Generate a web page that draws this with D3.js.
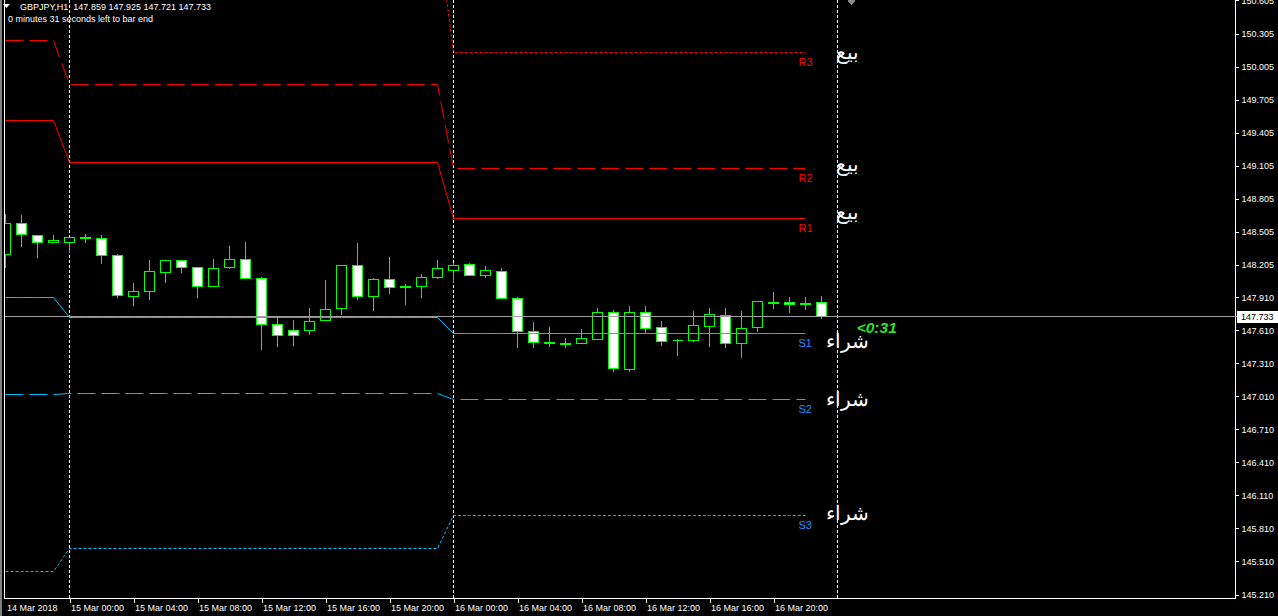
<!DOCTYPE html>
<html><head><meta charset="utf-8">
<script src="https://cdn.jsdelivr.net/npm/d3@7"></script>
<style>
html,body{margin:0;padding:0;background:#000;overflow:hidden}
svg{display:block}
text{font-family:"Liberation Sans",Arial,sans-serif}
</style></head><body>
<svg id="c" width="1278" height="616"></svg>
<script>
// ---------------- data ----------------
const symbolText = "GBPJPY,H1";
const headerQuote = "147.859 147.925 147.721 147.733";
const timerText = "0 minutes 31 seconds left to bar end";

// H1 bars from 14 Mar 2018 20:00 to 16 Mar 2018 23:00 (index 0..51)
const opens  = [148.300,148.581,148.472,148.409,148.405,148.446,148.445,148.290,147.914,147.960,148.132,148.239,148.184,148.005,148.178,148.254,148.084,147.664,147.612,147.609,147.700,147.805,148.200,147.918,148.072,147.998,148.005,148.087,148.154,148.209,148.109,148.145,147.900,147.600,147.497,147.485,147.488,147.530,147.773,147.255,147.773,147.637,147.518,147.518,147.646,147.746,147.491,147.637,147.856,147.864,147.848,147.859];
const highs  = [148.666,148.657,148.484,148.484,148.454,148.493,148.475,148.311,148.048,148.248,148.248,148.248,148.184,148.266,148.378,148.420,148.096,147.748,147.712,147.821,148.075,148.200,148.411,148.093,148.284,148.030,148.121,148.257,148.227,148.221,148.202,148.184,147.912,147.685,147.648,147.546,147.630,147.821,147.794,147.839,147.839,147.703,147.539,147.785,147.812,147.812,147.785,147.873,147.966,147.912,147.912,147.925];
const lows   = [148.178,148.369,148.269,148.409,148.318,148.405,148.214,147.905,147.833,147.887,148.042,148.132,147.905,148.005,148.169,148.078,147.433,147.460,147.469,147.569,147.700,147.751,147.887,147.787,147.942,147.842,147.905,148.078,148.045,148.109,148.091,147.896,147.453,147.453,147.460,147.451,147.488,147.524,147.233,147.233,147.591,147.469,147.385,147.506,147.458,147.451,147.360,147.597,147.806,147.773,147.794,147.721];
const closes = [148.581,148.481,148.409,148.427,148.454,148.452,148.287,147.924,147.964,148.148,148.239,148.178,148.005,148.175,148.257,148.078,147.660,147.564,147.564,147.691,147.800,148.200,147.918,148.072,148.000,148.003,148.091,148.172,148.200,148.109,148.154,147.896,147.600,147.500,147.489,147.490,147.537,147.773,147.264,147.773,147.627,147.509,147.518,147.655,147.755,147.491,147.627,147.873,147.862,147.845,147.849,147.733];

const xTickIndex  = [0,4,8,12,16,20,24,28,32,36,40,44,48];
const xTickLabels = ["14 Mar 2018","15 Mar 00:00","15 Mar 04:00","15 Mar 08:00","15 Mar 12:00","15 Mar 16:00","15 Mar 20:00","16 Mar 00:00","16 Mar 04:00","16 Mar 08:00","16 Mar 12:00","16 Mar 16:00","16 Mar 20:00"];
const yTickLabels = ["150.605","150.305","150.005","149.705","149.405","149.105","148.805","148.505","148.205","147.910","147.610","147.310","147.010","146.710","146.410","146.110","145.810","145.510","145.210"];

// day periods (bar index ranges) and day separators
const periodStart = [0, 4, 28];
const periodEnd   = [3, 27, 50];
const separatorIndex = [4, 28, 52];

// pivot levels per day
const pivotNames = ["R3","R2","R1","S1","S2","S3"];
const R3 = [151.856, 151.256, 150.134];
const R2 = [150.243, 149.844, 149.083];
const R1 = [149.519, 149.135, 148.627];
const S1 = [147.909, 147.727, 147.582];
const S2 = [147.028, 147.037, 146.983];
const S3 = [145.420, 145.626, 145.929];

// Arabic signal labels
const sellText = "بيع";
const buyText = "شراء";
const sellLabelPrices = [150.069, 149.056, 148.616];
const buyLabelPrices  = [147.449, 146.922, 145.887];
const labelIndex = 52.6;

const countdownText = "<0:31";
const countdownIndex = 53.2;
const countdownPrice = 147.585;

// ---------------- drawing ----------------
const levels = [R3, R2, R1, S1, S2, S3];
const W = 1278, H = 616, L = 5, R = 1235, B = 598;

const x = d3.scaleLinear().domain([0, 51]).range([5.5, 821.5]);
const y = d3.scaleLinear().domain([145.210, 150.305]).range([594.5, 33.5]);
const cy = v => Math.round(y(v) - 0.5) + 0.5;

const svg = d3.select("#c");
svg.append("rect").attr("width", W).attr("height", H).attr("fill", "#000");
svg.append("rect").attr("x", 0).attr("y", 0).attr("width", 2).attr("height", H).attr("fill", "#808080");

svg.append("defs").append("clipPath").attr("id", "plot")
  .append("rect").attr("x", L).attr("y", 0).attr("width", R - L).attr("height", B);
const plot = svg.append("g").attr("clip-path", "url(#plot)").attr("shape-rendering", "crispEdges");

// day separators
plot.selectAll("line.sep").data(separatorIndex).join("line").attr("class", "sep")
  .attr("x1", d => x(d)).attr("x2", d => x(d)).attr("y1", 0).attr("y2", B)
  .attr("stroke", "#fff").attr("stroke-width", 1).attr("stroke-dasharray", "3,2");

// candles
const bars = d3.range(opens.length).map(i => ({i, o: opens[i], h: highs[i], l: lows[i], c: closes[i]}));
const cg = plot.append("g");
cg.selectAll("line.wick").data(bars).join("line").attr("class", "wick")
  .attr("x1", d => x(d.i)).attr("x2", d => x(d.i))
  .attr("y1", d => cy(d.h)).attr("y2", d => cy(d.l))
  .attr("stroke", "#00ff00").attr("stroke-width", 1);
cg.selectAll("path.body").data(bars).join("path").attr("class", "body")
  .attr("d", d => {
    const t = cy(Math.max(d.o, d.c)), b = cy(Math.min(d.o, d.c));
    const x0 = x(d.i) - 5, x1 = x(d.i) + 5;
    return `M${x0},${t}H${x1}V${b}H${x0}Z`;
  })
  .attr("fill", d => d.c < d.o ? "#fff" : "#000")
  .attr("stroke", "#00ff00").attr("stroke-width", 1);

// bid price line
const last = closes[closes.length - 1];
plot.append("line").attr("x1", L).attr("x2", R).attr("y1", cy(last)).attr("y2", cy(last))
  .attr("stroke", "#a0a0a0").attr("stroke-width", 1);

// pivot lines
const dashFor = n => n.endsWith("1") ? null : (n.endsWith("2") ? "18,6" : "3,2");
const colorFor = n => n[0] === "R" ? "#ff0000" : "#00bfff";
const line = d3.line().x(d => x(d[0])).y(d => cy(d[1]));
pivotNames.forEach((name, k) => {
  const pts = [];
  periodStart.forEach((s, p) => { for (let i = s; i <= periodEnd[p]; i++) pts.push([i, levels[k][p]]); });
  plot.append("path").attr("d", line(pts)).attr("fill", "none")
    .attr("stroke", colorFor(name)).attr("stroke-width", 1)
    .attr("stroke-dasharray", dashFor(name))
    .attr("shape-rendering", "auto");
  plot.append("text").attr("x", x(periodEnd[2]) - 7).attr("y", cy(levels[k][2]) + 13)
    .attr("fill", name[0] === "R" ? "#ff0000" : "#1e90ff")
    .attr("font-size", "11px").text(name);
});

// Arabic labels
const arab = plot.append("g").attr("font-family", "'DejaVu Sans',sans-serif").attr("font-size", "20px")
  .attr("fill", "#fff").attr("text-anchor", "middle");
arab.selectAll("text.sell").data(sellLabelPrices).join("text").attr("class", "sell")
  .attr("x", x(labelIndex)).attr("y", d => y(d)).text(sellText);
arab.selectAll("text.buy").data(buyLabelPrices).join("text").attr("class", "buy")
  .attr("x", x(labelIndex)).attr("y", d => y(d)).text(buyText);

// countdown
plot.append("text").attr("x", x(countdownIndex)).attr("y", y(countdownPrice))
  .attr("fill", "#2be02b").attr("font-size", "15.5px").attr("font-weight", "bold").attr("font-style", "italic")
  .text(countdownText);

// small arrow object at top
plot.append("path").attr("d", `M${x(52.85)},-3l4,4l-4,4l-4,-4Z`).attr("fill", "#8a8a8a");

// frame
svg.append("line").attr("x1", 4.5).attr("x2", 4.5).attr("y1", 0).attr("y2", B + 0.5).attr("stroke", "#fff").attr("shape-rendering", "crispEdges");
svg.append("line").attr("x1", 4.5).attr("x2", R + 0.5).attr("y1", B + 0.5).attr("y2", B + 0.5).attr("stroke", "#fff").attr("shape-rendering", "crispEdges");
svg.append("line").attr("x1", R + 0.5).attr("x2", R + 0.5).attr("y1", 0).attr("y2", B + 0.5).attr("stroke", "#fff").attr("shape-rendering", "crispEdges");

// x axis
const xAxis = d3.axisBottom(x).tickValues(xTickIndex).tickFormat((d, i) => xTickLabels[i]).tickSize(4).tickPadding(2);
svg.append("g").attr("transform", `translate(0,${B + 0.5})`).call(xAxis)
  .call(g => g.select(".domain").remove())
  .call(g => g.selectAll(".tick line").attr("stroke", "#fff").attr("shape-rendering", "crispEdges"))
  .call(g => g.selectAll(".tick").filter(d => d === 0).select("line").remove())
  .call(g => g.selectAll(".tick text").attr("fill", "#fff").attr("text-anchor", "start").attr("x", 1)
     .attr("font-family", "'Liberation Sans',Arial,sans-serif").attr("font-size", "9px"));

// y axis
const yAxis = d3.axisRight(y).tickValues(yTickLabels.map(Number)).tickFormat(d3.format(".3f")).tickSize(3).tickPadding(3);
svg.append("g").attr("transform", `translate(${R + 0.5},0)`).call(yAxis)
  .call(g => g.select(".domain").remove())
  .call(g => g.selectAll(".tick line").attr("stroke", "#fff").attr("shape-rendering", "crispEdges"))
  .call(g => g.selectAll(".tick text").attr("fill", "#fff")
     .attr("font-family", "'Liberation Sans',Arial,sans-serif").attr("font-size", "9px"));

// last price label
svg.append("line").attr("x1", R).attr("x2", R + 3).attr("y1", cy(last)).attr("y2", cy(last)).attr("stroke", "#a0a0a0").attr("shape-rendering", "crispEdges");
svg.append("rect").attr("x", R + 2).attr("y", Math.round(y(last)) - 6).attr("width", W - R - 2).attr("height", 12).attr("fill", "#fff");
svg.append("text").attr("x", R + 6).attr("y", y(last)).attr("dy", "0.34em").attr("fill", "#000")
  .attr("font-size", "9px").text(last.toFixed(3));

// header
svg.append("path").attr("d", "M3,4H10L6.5,8Z").attr("fill", "#fff");
svg.append("text").attr("x", 20).attr("y", 9.5).attr("fill", "#fff").attr("font-size", "9px")
  .attr("xml:space", "preserve").text(symbolText + "  " + headerQuote);
svg.append("text").attr("x", 8).attr("y", 22).attr("fill", "#fff").attr("font-size", "9px").text(timerText);
</script>
</body></html>
